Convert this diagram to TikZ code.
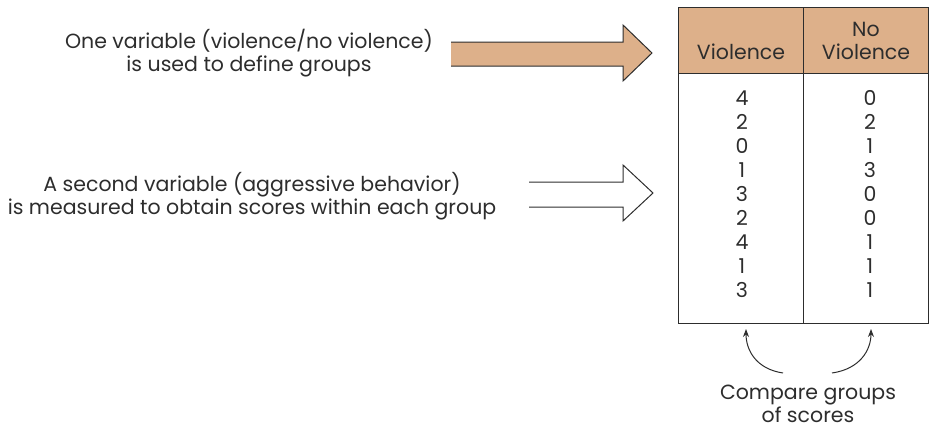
\documentclass[tikz,border=0pt]{standalone}
\usepackage{fontspec}
\setmainfont{Poppins}
\usetikzlibrary{arrows.meta}
\definecolor{tan}{RGB}{221,176,138}
\definecolor{ink}{RGB}{45,45,45}
\tikzset{
  txt/.style={text=ink, font=\fontsize{20.5}{23.5}\selectfont, align=center, inner sep=0pt},
  num/.style={text=ink, font=\fontsize{20.5}{24}\selectfont, inner sep=0pt},
  rule/.style={draw=ink, line width=1pt},
  curv/.style={draw=ink, line width=1pt, -{Stealth[length=8pt,width=6pt]}}
}
\begin{document}
\begin{tikzpicture}[x=1pt,y=-1pt]
\useasboundingbox (0,0) rectangle (932,431);

% table: header band, frame and column divider
\fill[tan] (678,7) rectangle (928,73);
\draw[rule] (678,7) rectangle (928,323);
\draw[rule] (678,73) -- (928,73);
\draw[rule] (803,7) -- (803,323);

\node[txt] (hv) at (741,52) {Violence};
\node[txt] (hn) at (866,41) {No\\Violence};

% scores of each group
\foreach \a/\b [count=\i] in {4/0,2/2,0/1,1/3,3/0,2/0,4/1,1/1,3/1}{
  \node[num] (v\i) at (742,74+24*\i) {\a};
  \node[num] (n\i) at (870,74+24*\i) {\b};
}

% labels on the left
\node[txt] (t1) at (249,53) {One variable (violence/no violence)\\is used to define groups};
\node[txt] (t2) at (252,196) {A second variable (aggressive behavior)\\is measured to obtain scores within each group};

% filled block arrow
\filldraw[fill=tan, draw=ink, line width=1pt]
  (451,42) -- (623,42) -- (623,25) -- (652,53) -- (623,81) -- (623,66) -- (451,66);
% open block arrow
\draw[draw=ink, line width=1pt]
  (529,182) -- (623,182) -- (623,165) -- (653,193) -- (623,221) -- (623,207) -- (529,207);

% comparison note
\node[txt] (cmp) at (808,404) {Compare groups\\of scores};
\coordinate (la) at (783,373);
\coordinate (ra) at (832,373);
\coordinate (lt) at (746,329);
\coordinate (rt) at (871,329);
\draw[curv] (la) .. controls (756,369) and (746,350) .. (lt);
\draw[curv] (ra) .. controls (860,369) and (871,350) .. (rt);
\end{tikzpicture}
\end{document}
